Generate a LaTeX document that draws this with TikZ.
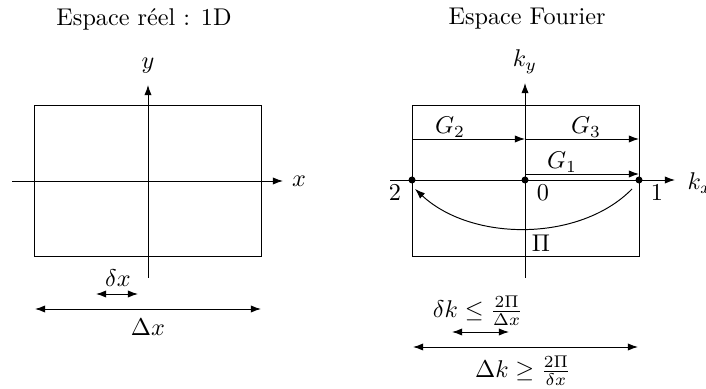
\documentclass[tikz,border=0pt]{standalone}
\usetikzlibrary{arrows.meta}
\begin{document}
\begin{tikzpicture}[x=0.413pt,y=-0.413pt,
  ax/.style={-{Latex[length=4.2pt,width=3pt]}},
  dbl/.style={{Latex[length=4.2pt,width=3pt]}-{Latex[length=4.2pt,width=3pt]}},
  pt/.style={circle,fill=black,inner sep=0pt,minimum size=2.9pt},
  lbl/.style={inner sep=0pt}]
\useasboundingbox (0,0) rectangle (706,389);
% ---------- left panel ----------
\node[lbl] (t1) at (144,19) {Espace réel : 1D};
\coordinate (LA) at (34,105);
\coordinate (LB) at (261,256);
\draw (LA) rectangle (LB);
\coordinate (yb) at (148,278);
\coordinate (yt) at (148,85);
\draw[ax] (yb) -- (yt);
\node[lbl] (ylab) at (148,66) {$y$};
\coordinate (xl) at (12,181);
\coordinate (xr) at (283,181);
\draw[ax] (xl) -- (xr);
\node[lbl] (xlab) at (299,181) {$x$};
\coordinate (dxa) at (96,294);
\coordinate (dxb) at (138,294);
\draw[dbl] (dxa) -- (dxb);
\node[lbl] (dxlab) at (118,278) {$\delta x$};
\coordinate (Dxa) at (35,309);
\coordinate (Dxb) at (261,309);
\draw[dbl] (Dxa) -- (Dxb);
\node[lbl] (Dxlab) at (148,327) {$\Delta x$};
% ---------- right panel ----------
\node[lbl] (t2) at (527,19) {Espace Fourier};
\coordinate (RA) at (412,105);
\coordinate (RB) at (639,256);
\draw (RA) rectangle (RB);
\coordinate (kyb) at (525,278);
\coordinate (kyt) at (525,83);
\draw[ax] (kyb) -- (kyt);
\node[lbl] (kylab) at (525,62) {$k_y$};
\coordinate (kxl) at (390,180);
\coordinate (kxr) at (675,180);
\draw[ax] (kxl) -- (kxr);
\node[lbl,anchor=west] (kxlab) at (687,183) {$k_x$};
\node[pt] (p2) at (412,180) {};
\node[pt] (p0) at (525,180) {};
\node[pt] (p1) at (639,180) {};
\node[lbl] (l2) at (395,193) {$2$};
\node[lbl] (l0) at (543,193) {$0$};
\node[lbl] (l1) at (657,193) {$1$};
% G vectors
\coordinate (g2a) at (412,139);
\coordinate (g2b) at (525,139);
\coordinate (g3b) at (639,139);
\draw[ax] (g2a) -- (g2b);
\draw[ax] (g2b) -- (g3b);
\node[lbl] (G2) at (450,127) {$G_2$};
\node[lbl] (G3) at (586,127) {$G_3$};
\coordinate (g1a) at (525,174);
\coordinate (g1b) at (639,174);
\draw[ax] (g1a) -- (g1b);
\node[lbl] (G1) at (562,162) {$G_1$};
% curved arrow
\coordinate (ca) at (632,189);
\coordinate (cb) at (415,189);
\draw[ax] (ca) .. controls (580,242) and (472,242) .. (cb);
\node[lbl] (Pi) at (541,243) {$\Pi$};
% bottom
\coordinate (dka) at (452,332);
\coordinate (dkb) at (509,332);
\draw[dbl] (dka) -- (dkb);
\node[lbl] (dklab) at (478,311) {$\delta k \leq \frac{2\Pi}{\Delta x}$};
\coordinate (Dka) at (413,347);
\coordinate (Dkb) at (638,347);
\draw[dbl] (Dka) -- (Dkb);
\node[lbl] (Dklab) at (523,371) {$\Delta k \geq \frac{2\Pi}{\delta x}$};
\end{tikzpicture}
\end{document}
